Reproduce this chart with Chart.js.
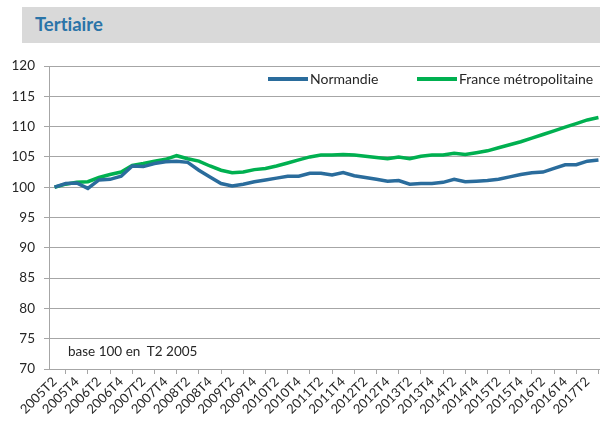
<!DOCTYPE html>
<html lang="fr">
<head>
<meta charset="utf-8">
<title>Tertiaire</title>
<script src="https://cdn.jsdelivr.net/npm/chart.js@4"></script>
<style>
	body { margin: 0; width: 600px; height: 421px; overflow: hidden; background: #fff; font-family: Lato, "Open Sans", sans-serif; color: #262626; font-variant-ligatures: none; }
	#wrap { position: relative; width: 600px; height: 421px; overflow: hidden; }
	#bandeau { position: absolute; left: 22px; top: 7px; width: 600px; height: 36px; background: #d9d9d9; }
	#bandeau span { position: absolute; left: 13px; top: 6px; font-size: 18.5px; font-weight: bold; color: #2a74a8; }
	#cadre { position: absolute; left: 0; top: 0; width: 606px; height: 421px; }
	.leg { position: absolute; top: 70px; font-size: 14px; white-space: nowrap; }
	.leg i { display: inline-block; width: 40px; height: 4px; vertical-align: middle; margin-right: 2px; margin-top: -2px; }
	#base { position: absolute; left: 68px; top: 343px; font-size: 13.5px; }
</style>
</head>
<body>
<div id="wrap">
	<div id="bandeau"><span>Tertiaire</span></div>
	<div id="cadre"><canvas id="myLineChart" width="606" height="421"></canvas></div>
	<div class="leg" style="left:268px"><i style="background:#2a6c9c"></i>Normandie</div>
	<div class="leg" style="left:417px"><i style="background:#00b050"></i>France métropolitaine</div>
	<div id="base">base 100 en&nbsp; T2 2005</div>
</div>
<script>
// trimestres : 2005T2 -> 2017T3
var quarters = [
	'2005T2', '2005T3', '2005T4',
	'2006T1', '2006T2', '2006T3', '2006T4',
	'2007T1', '2007T2', '2007T3', '2007T4',
	'2008T1', '2008T2', '2008T3', '2008T4',
	'2009T1', '2009T2', '2009T3', '2009T4',
	'2010T1', '2010T2', '2010T3', '2010T4',
	'2011T1', '2011T2', '2011T3', '2011T4',
	'2012T1', '2012T2', '2012T3', '2012T4',
	'2013T1', '2013T2', '2013T3', '2013T4',
	'2014T1', '2014T2', '2014T3', '2014T4',
	'2015T1', '2015T2', '2015T3', '2015T4',
	'2016T1', '2016T2', '2016T3', '2016T4',
	'2017T1', '2017T2', '2017T3'
];

// indice Normandie (base 100 en T2 2005)
var normandie = [
	100.0, 100.6, 100.7,
	99.8, 101.2, 101.3, 101.8,
	103.5, 103.4, 103.9, 104.2,
	104.3, 104.1, 102.8, 101.7,
	100.6, 100.2, 100.5, 100.9,
	101.2, 101.5, 101.8, 101.8,
	102.3, 102.3, 102.0, 102.4,
	101.9, 101.6, 101.3, 101.0,
	101.1, 100.5, 100.6, 100.6,
	100.8, 101.3, 100.9, 101.0,
	101.1, 101.3, 101.7, 102.1,
	102.4, 102.5, 103.1, 103.7,
	103.7, 104.3, 104.5
];

// indice France métropolitaine
var france = [
	100.0, 100.5, 100.8,
	100.9, 101.6, 102.1, 102.5,
	103.6, 103.9, 104.3, 104.6,
	105.2, 104.7, 104.3, 103.5,
	102.8, 102.4, 102.5, 102.9,
	103.1, 103.5, 104.0, 104.5,
	105.0, 105.3, 105.3, 105.4,
	105.3, 105.1, 104.9, 104.7,
	105.0, 104.7, 105.1, 105.3,
	105.3, 105.6, 105.4, 105.7,
	106.0, 106.5, 107.0, 107.5,
	108.1, 108.7, 109.3, 109.9,
	110.5, 111.1, 111.5
];

var yMin = 70;
var yMax = 120;
var yStep = 5;

var gridColor = '#a6a6a6';
var textColor = '#262626';

function drawChart() {
	var ctx = document.getElementById('myLineChart').getContext('2d');

	var chartData = {
		labels: quarters,
		datasets: [{
			label: 'Normandie',
			data: normandie,
			borderColor: '#2a6c9c',
			borderWidth: 3.5,
			pointRadius: 0,
			tension: 0,
			fill: false
		}, {
			label: 'France métropolitaine',
			data: france,
			borderColor: '#00b050',
			borderWidth: 3.5,
			pointRadius: 0,
			tension: 0,
			fill: false
		}]
	};

	var chartOptions = {
		responsive: false,
		animation: false,
		layout: { padding: { top: 66, left: 0, right: 2, bottom: 0 } },
		plugins: {
			legend: { display: false },
			tooltip: { enabled: false }
		},
		scales: {
			x: {
				type: 'category',
				offset: true,
				grid: {
					offset: true,
					drawOnChartArea: false,
					color: gridColor,
					tickLength: 5
				},
				border: { color: gridColor },
				ticks: {
					autoSkip: false,
					maxRotation: 45,
					minRotation: 45,
					padding: 0,
					color: textColor,
					font: { family: 'Lato', size: 13 },
					// un libellé sur deux (T2 et T4)
					callback: function(value, index) {
						return index % 2 === 0 ? quarters[index] : null;
					}
				},
				afterFit: function(scale) { scale.height = 52; }
			},
			y: {
				min: yMin,
				max: yMax,
				grid: { color: gridColor, tickLength: 5 },
				border: { color: gridColor },
				ticks: {
					stepSize: yStep,
					padding: 9,
					color: textColor,
					font: { family: 'Lato', size: 13.5 }
				},
				afterFit: function(scale) { scale.width = 49; }
			}
		}
	};

	window.myLineChart = new Chart(ctx, {
		type: 'line',
		data: chartData,
		options: chartOptions
	});
}

drawChart();
</script>
</body>
</html>
